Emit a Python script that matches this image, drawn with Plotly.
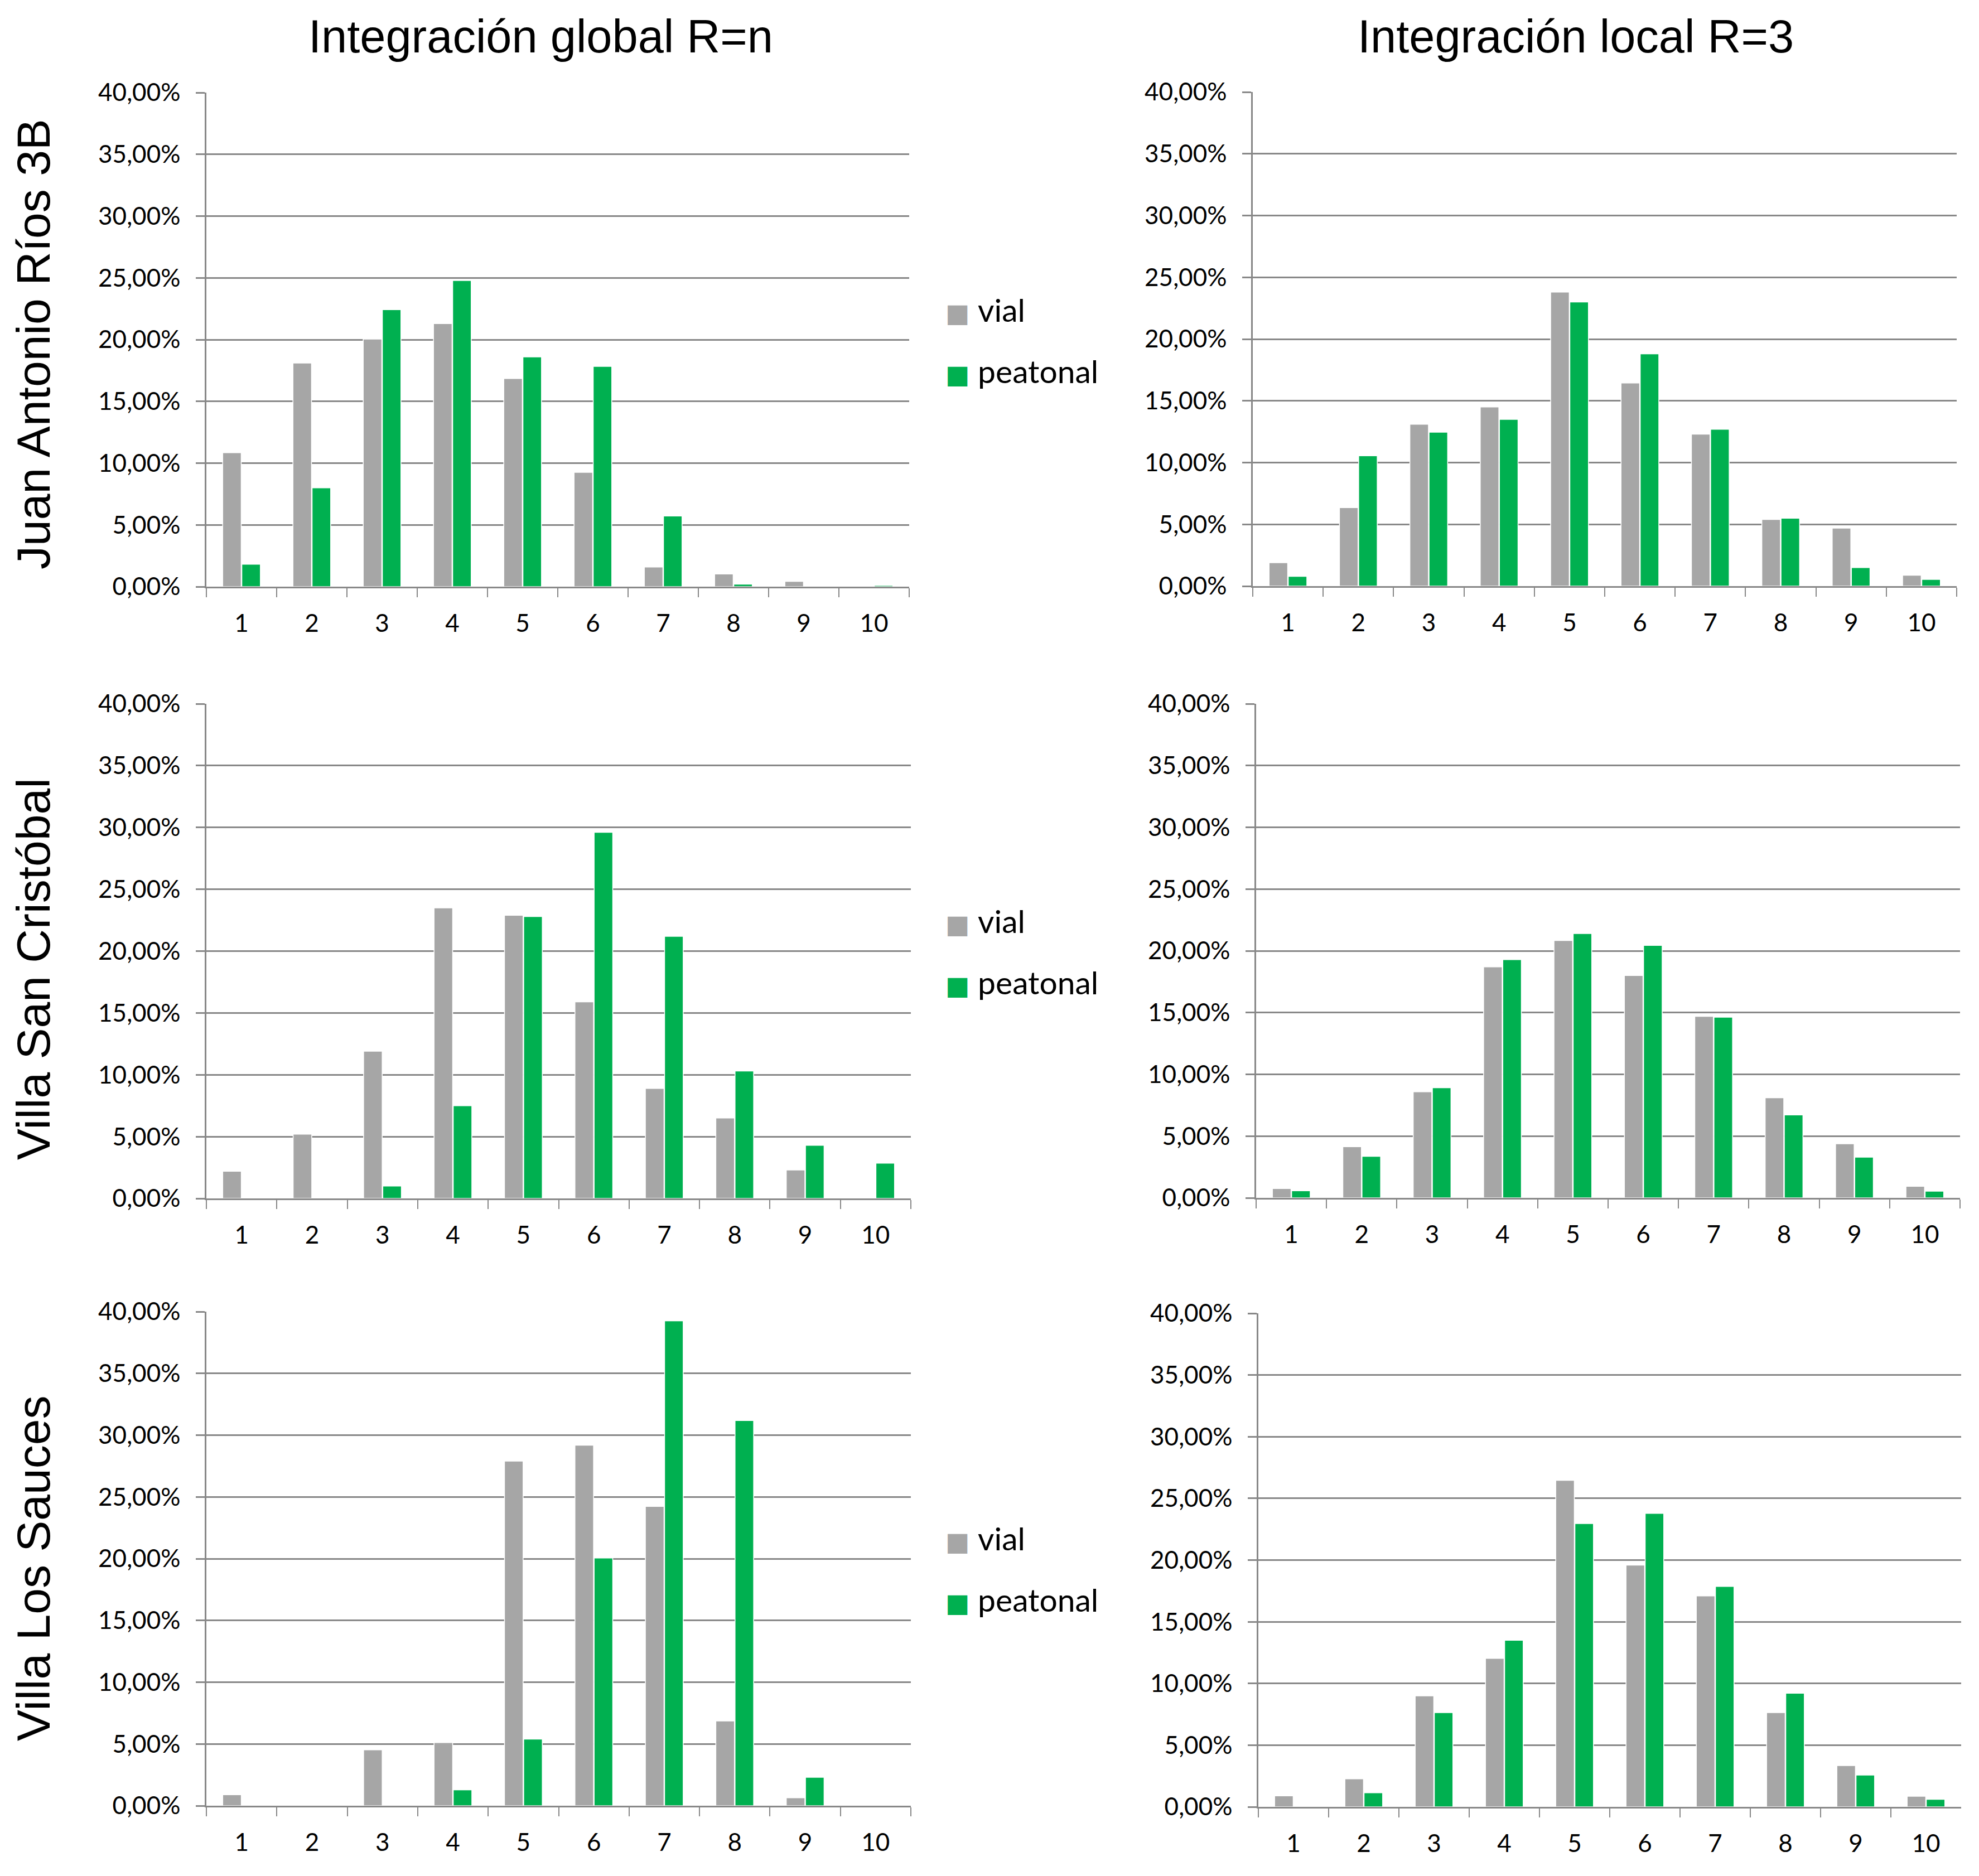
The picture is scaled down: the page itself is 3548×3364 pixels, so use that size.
import plotly.graph_objects as go

W, H = 3548, 3364
PAGE_OFFSET = 8  # browser body margin

categories = ["1", "2", "3", "4", "5", "6", "7", "8", "9", "10"]
series_names = ["vial", "peatonal"]
column_titles = ["Integración global R=n", "Integración local R=3"]
row_titles = ["Juan Antonio Ríos 3B", "Villa San Cristóbal", "Villa Los Sauces"]

# values in percent
jar_global_vial = [10.85, 18.1, 20.05, 21.3, 16.85, 9.26, 1.59, 1.03, 0.43, 0.0]
jar_global_peatonal = [1.82, 8.0, 22.43, 24.78, 18.6, 17.83, 5.72, 0.2, 0.0, 0.1]
jar_local_vial = [1.9, 6.35, 13.1, 14.5, 23.8, 16.45, 12.3, 5.4, 4.7, 0.88]
jar_local_peatonal = [0.79, 10.55, 12.46, 13.5, 23.0, 18.8, 12.7, 5.5, 1.5, 0.54]

vsc_global_vial = [2.2, 5.2, 11.9, 23.5, 22.9, 15.9, 8.9, 6.5, 2.3, 0.0]
vsc_global_peatonal = [0.0, 0.0, 1.0, 7.5, 22.8, 29.6, 21.2, 10.3, 4.3, 2.85]
vsc_local_vial = [0.76, 4.14, 8.59, 18.7, 20.83, 18.0, 14.7, 8.1, 4.38, 0.94]
vsc_local_peatonal = [0.57, 3.36, 8.92, 19.29, 21.4, 20.44, 14.63, 6.71, 3.3, 0.54]

vls_global_vial = [0.89, 0.0, 4.53, 5.11, 27.9, 29.19, 24.23, 6.86, 0.64, 0.0]
vls_global_peatonal = [0.0, 0.0, 0.0, 1.29, 5.39, 20.06, 39.26, 31.18, 2.3, 0.0]
vls_local_vial = [0.89, 2.27, 9.0, 12.03, 26.46, 19.59, 17.1, 7.64, 3.35, 0.86]
vls_local_peatonal = [0.0, 1.14, 7.64, 13.5, 22.96, 23.79, 17.87, 9.21, 2.58, 0.61]

panels = [
    [(jar_global_vial, jar_global_peatonal), (jar_local_vial, jar_local_peatonal)],
    [(vsc_global_vial, vsc_global_peatonal), (vsc_local_vial, vsc_local_peatonal)],
    [(vls_global_vial, vls_global_peatonal), (vls_local_vial, vls_local_peatonal)],
]

COLORS = {"vial": "#A6A6A6", "peatonal": "#00B050"}
GRID = "#888888"
TICK_FONT = dict(family="Lato, 'Open Sans', sans-serif", size=44, color="black")
TITLE_FONT = dict(family="'Liberation Sans', Arial, sans-serif", size=83, color="black")

# plot boxes in pixels: (left, right, top, bottom)
boxes = [
    [(370, 1630, 166, 1052), (2246, 3508, 165, 1051)],
    [(370, 1633, 1262, 2149), (2252, 3514, 1262, 2148)],
    [(370, 1633, 2352, 3238), (2256, 3516, 2355, 3240)],
]
legend_centers = [610, 1706, 2813]
row_label_centers = [617, 1738, 2812]
title_centers = [970, 2825]


def px_x(v):
    return (v - PAGE_OFFSET) / W


def px_y(v):
    return 1 - (v - PAGE_OFFSET) / H


def legend_label(name):
    # Excel-style big square swatch in front of the series name
    swatch = (f"<span style=\"font-family:'DejaVu Sans';font-size:46px;"
              f"color:{COLORS[name]}\">■ </span>")
    return f"{swatch}{name}"


fig = go.Figure()
layout = {}
legend_keys = ["legend", "legend2", "legend3"]

n = 0
for r, row in enumerate(panels):
    for c, (vial, peatonal) in enumerate(row):
        n += 1
        xa = "x" if n == 1 else f"x{n}"
        ya = "y" if n == 1 else f"y{n}"
        for name, vals in zip(series_names, (vial, peatonal)):
            fig.add_trace(go.Bar(
                x=categories, y=vals, name=name,
                marker=dict(color=COLORS[name], line=dict(color="white", width=1.5)),
                xaxis=xa, yaxis=ya, showlegend=False,
            ))
        left, right, top, bottom = boxes[r][c]
        layout["xaxis" if n == 1 else f"xaxis{n}"] = dict(
            domain=[px_x(left), px_x(right)], anchor=ya, automargin=False,
            showline=True, linecolor=GRID, linewidth=2.5,
            ticks="outside", tickson="boundaries", ticklen=16, tickwidth=2, tickcolor=GRID,
            tickfont=TICK_FONT, ticklabelstandoff=25,
            showgrid=False, fixedrange=True,
        )
        layout["yaxis" if n == 1 else f"yaxis{n}"] = dict(
            domain=[px_y(bottom), px_y(top)], anchor=xa, automargin=False,
            range=[0, 40], dtick=5, tick0=0,
            tickformat=".2f", ticksuffix="%",
            showline=True, linecolor=GRID, linewidth=2.5,
            showgrid=True, gridcolor=GRID, gridwidth=2.5,
            zeroline=False,
            ticks="outside", ticklen=16, tickwidth=2.5, tickcolor=GRID,
            tickfont=TICK_FONT, ticklabelstandoff=19,
        )
    # legend entries for this row (swatch drawn in the label text)
    for name in series_names:
        fig.add_trace(go.Scatter(
            x=[None], y=[None], mode="lines", line=dict(width=0, color=COLORS[name]),
            name=legend_label(name), legend=legend_keys[r], legendgroup=f"{name}{r}",
            xaxis="x" if r == 0 else f"x{2 * r + 1}", yaxis="y" if r == 0 else f"y{2 * r + 1}",
            hoverinfo="skip",
        ))

for r, key in enumerate(legend_keys):
    layout[key] = dict(
        x=1647 / W, xanchor="left",
        y=px_y(legend_centers[r]), yanchor="middle",
        font=dict(family="Lato, 'Open Sans', sans-serif", size=57, color="black"),
        bgcolor="rgba(0,0,0,0)", tracegroupgap=33, itemwidth=30,
    )

annotations = []
for c, t in enumerate(column_titles):
    annotations.append(dict(
        text=t, x=px_x(title_centers[c]), y=px_y(65), xref="paper", yref="paper",
        xanchor="center", yanchor="middle", showarrow=False, font=TITLE_FONT,
    ))
for r, t in enumerate(row_titles):
    annotations.append(dict(
        text=t, x=px_x(60), y=px_y(row_label_centers[r]), xref="paper", yref="paper",
        xanchor="center", yanchor="middle", textangle=-90, showarrow=False,
        font=dict(TITLE_FONT, size=84),
    ))

fig.update_layout(
    width=W, height=H,
    margin=dict(l=0, r=0, t=0, b=0, autoexpand=False),
    paper_bgcolor="white", plot_bgcolor="white",
    separators=",.",
    barmode="group", bargap=0.455, bargroupgap=0.03,
    annotations=annotations,
    **layout,
)

fig.write_html("out.html")
